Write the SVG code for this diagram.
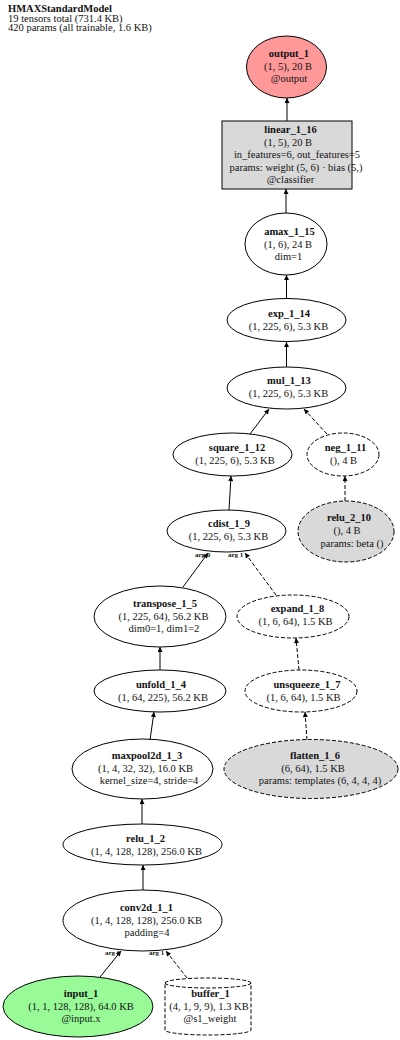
<svg xmlns="http://www.w3.org/2000/svg" width="400" height="1040" viewBox="0 0 400 1040">
<defs>
<style>
text{font-family:"Liberation Serif","Times New Roman",serif;font-size:10.5px;fill:#111;text-anchor:middle}
.t{text-anchor:start}
.b{font-weight:bold}
.lbl{font-size:7px;font-weight:bold;text-anchor:start}
.n{fill:#fff;stroke:#000;stroke-width:1}
.d{stroke-dasharray:4,2}
.g{fill:#d9d9d9}
.e{stroke:#000;stroke-width:1;fill:none;marker-end:url(#ah)}
.ed{stroke:#000;stroke-width:1;fill:none;stroke-dasharray:4,2;marker-end:url(#ah)}
</style>
<marker id="ah" viewBox="0 0 10 10" refX="10" refY="5" markerWidth="6" markerHeight="5" markerUnits="userSpaceOnUse" orient="auto">
<path d="M0,0 L10,5 L0,10 z" fill="#000"/>
</marker>
</defs>
<rect width="400" height="1040" fill="#fff"/>
<g id="title">
<text class="t b" x="8" y="12">HMAXStandardModel</text>
<text class="t" x="8" y="21.5">19 tensors total (731.4 KB)</text>
<text class="t" x="8" y="31">420 params (all trainable, 1.6 KB)</text>
</g>
<g id="connectors">
<line class="e" x1="287" y1="121" x2="287" y2="98"/>
<line class="e" x1="286" y1="213" x2="286" y2="189"/>
<line class="e" x1="286.5" y1="299" x2="286.5" y2="275"/>
<line class="e" x1="286.5" y1="367" x2="286.5" y2="342"/>
<line class="e" x1="250" y1="434" x2="269" y2="409"/>
<line class="ed" x1="327" y1="434" x2="304" y2="409"/>
<line class="ed" x1="345" y1="501" x2="345" y2="476"/>
<line class="e" x1="229" y1="510" x2="231" y2="476"/>
<line class="e" x1="183" y1="587" x2="208" y2="553"/>
<line class="ed" x1="276" y1="595" x2="245" y2="553"/>
<line class="e" x1="160" y1="670" x2="160" y2="647"/>
<line class="ed" x1="299" y1="670" x2="296" y2="638"/>
<line class="e" x1="150" y1="740" x2="154" y2="712"/>
<line class="ed" x1="307" y1="740" x2="305" y2="712"/>
<line class="e" x1="142" y1="824" x2="142" y2="799"/>
<line class="e" x1="143" y1="890" x2="143" y2="865"/>
<line class="e" x1="100" y1="977" x2="121" y2="951"/>
<line class="ed" x1="187" y1="978" x2="166" y2="951"/>
<text class="lbl" x="195" y="557">arg 0</text>
<text class="lbl" x="228" y="557">arg 1</text>
<text class="lbl" x="105" y="955">arg 0</text>
<text class="lbl" x="149" y="955">arg 1</text>
</g>
<g id="output_1">
<ellipse class="n" cx="286.5" cy="67" rx="40" ry="31" style="fill:#ff9999"/>
<text class="b" x="289" y="56.5">output_1</text>
<text x="288" y="69.5">(1, 5), 20 B</text>
<text x="289" y="82">@output</text>
</g>
<g id="linear_1_16">
<rect class="n g" x="222" y="121" width="130" height="68"/>
<text class="b" x="290.5" y="133">linear_1_16</text>
<text x="288" y="145.5">(1, 5), 20 B</text>
<text x="297" y="158">in_features=6, out_features=5</text>
<text x="296" y="170.5">params: weight (5, 6) · bias (5,)</text>
<text x="290.5" y="183">@classifier</text>
</g>
<g id="amax_1_15">
<ellipse class="n" cx="286" cy="244" rx="41" ry="31"/>
<text class="b" x="289.5" y="234.5">amax_1_15</text>
<text x="288" y="247.5">(1, 6), 24 B</text>
<text x="288.5" y="260">dim=1</text>
</g>
<g id="exp_1_14">
<ellipse class="n" cx="286.5" cy="320" rx="59.5" ry="21.5"/>
<text class="b" x="289" y="316.5">exp_1_14</text>
<text x="288.5" y="329.5">(1, 225, 6), 5.3 KB</text>
</g>
<g id="mul_1_13">
<ellipse class="n" cx="286.5" cy="388" rx="59.5" ry="21"/>
<text class="b" x="289" y="383.5">mul_1_13</text>
<text x="288.5" y="396.5">(1, 225, 6), 5.3 KB</text>
</g>
<g id="square_1_12">
<ellipse class="n" cx="232.5" cy="454.5" rx="59.5" ry="21.5"/>
<text class="b" x="237" y="450.5">square_1_12</text>
<text x="235" y="463.5">(1, 225, 6), 5.3 KB</text>
</g>
<g id="neg_1_11">
<ellipse class="n d" cx="343" cy="454.5" rx="36" ry="21.5"/>
<text class="b" x="345.5" y="450.5">neg_1_11</text>
<text x="343.5" y="463.5">(), 4 B</text>
</g>
<g id="relu_2_10">
<ellipse class="n g d" cx="346" cy="531.5" rx="48" ry="30.5"/>
<text class="b" x="349" y="520.5">relu_2_10</text>
<text x="347" y="533.5">(), 4 B</text>
<text x="352" y="546.5">params: beta ()</text>
</g>
<g id="cdist_1_9">
<ellipse class="n" cx="226.5" cy="531" rx="59.5" ry="21"/>
<text class="b" x="229" y="527">cdist_1_9</text>
<text x="228.5" y="540">(1, 225, 6), 5.3 KB</text>
</g>
<g id="transpose_1_5">
<ellipse class="n" cx="160" cy="616.5" rx="66" ry="30.5"/>
<text class="b" x="165" y="606.5">transpose_1_5</text>
<text x="163.5" y="619.5">(1, 225, 64), 56.2 KB</text>
<text x="164" y="632">dim0=1, dim1=2</text>
</g>
<g id="expand_1_8">
<ellipse class="n d" cx="293" cy="616.5" rx="56" ry="21.5"/>
<text class="b" x="297.5" y="611.5">expand_1_8</text>
<text x="295.5" y="624.5">(1, 6, 64), 1.5 KB</text>
</g>
<g id="unfold_1_4">
<ellipse class="n" cx="160" cy="691" rx="66" ry="21"/>
<text class="b" x="161" y="688">unfold_1_4</text>
<text x="163" y="701">(1, 64, 225), 56.2 KB</text>
</g>
<g id="unsqueeze_1_7">
<ellipse class="n d" cx="301" cy="691" rx="56" ry="21"/>
<text class="b" x="307" y="688">unsqueeze_1_7</text>
<text x="303.5" y="701">(1, 6, 64), 1.5 KB</text>
</g>
<g id="maxpool2d_1_3">
<ellipse class="n" cx="142.5" cy="769" rx="70.5" ry="30"/>
<text class="b" x="147" y="758.5">maxpool2d_1_3</text>
<text x="145.5" y="771.5">(1, 4, 32, 32), 16.0 KB</text>
<text x="149" y="784">kernel_size=4, stride=4</text>
</g>
<g id="flatten_1_6">
<ellipse class="n g d" cx="311" cy="769" rx="87" ry="29.5"/>
<text class="b" x="315" y="758.5">flatten_1_6</text>
<text x="313" y="771.5">(6, 64), 1.5 KB</text>
<text x="320" y="784">params: templates (6, 4, 4, 4)</text>
</g>
<g id="relu_1_2">
<ellipse class="n" cx="142.5" cy="844.5" rx="79.5" ry="20.5"/>
<text class="b" x="145.5" y="841.5">relu_1_2</text>
<text x="146.5" y="854.5">(1, 4, 128, 128), 256.0 KB</text>
</g>
<g id="conv2d_1_1">
<ellipse class="n" cx="142.5" cy="920.5" rx="79.5" ry="30.5"/>
<text class="b" x="146.5" y="910.5">conv2d_1_1</text>
<text x="146.5" y="923.5">(1, 4, 128, 128), 256.0 KB</text>
<text x="147" y="936">padding=4</text>
</g>
<g id="input_1">
<ellipse class="n" cx="78" cy="1006.5" rx="75" ry="30.5" style="fill:#98fb98"/>
<text class="b" x="81" y="996.5">input_1</text>
<text x="81" y="1009.5">(1, 1, 128, 128), 64.0 KB</text>
<text x="81" y="1022">@input.x</text>
</g>
<g id="buffer_1">
<path class="n d" d="M165,983 A43,5 0 0 1 251,983 L251,1030 A43,5 0 0 1 165,1030 Z"/>
<path class="d" d="M165,983 A43,5 0 0 0 251,983" fill="none" stroke="#000" stroke-width="1"/>
<text class="b" x="210.5" y="996.5">buffer_1</text>
<text x="209" y="1009.5">(4, 1, 9, 9), 1.3 KB</text>
<text x="210" y="1022">@s1_weight</text>
</g>
</svg>
